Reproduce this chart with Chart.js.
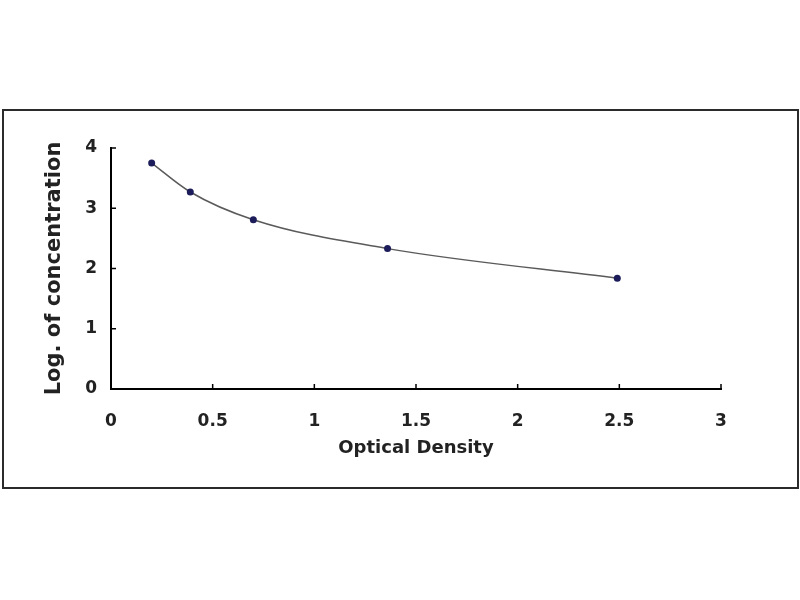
<!DOCTYPE html>
<html>
<head>
<meta charset="utf-8">
<script src="https://cdn.jsdelivr.net/npm/chart.js@4/dist/chart.umd.min.js"></script>
<style>
  html, body { margin: 0; padding: 0; background: #fff; }
  #wrap { width: 800px; height: 600px; }
</style>
</head>
<body>
<div id="wrap"><canvas id="odChart" width="800" height="600"></canvas></div>
<script>
// standard curve values
const opticalDensity = [0.20, 0.39, 0.70, 1.36, 2.49];
const logConcentration = [3.75, 3.27, 2.81, 2.33, 1.84];
const xTickValues = [0, 0.5, 1, 1.5, 2, 2.5, 3];
const yTickValues = [0, 1, 2, 3, 4];

const points = opticalDensity.map((x, i) => ({ x: x, y: logConcentration[i] }));

// frame round the whole figure + short inward tick marks
const framePlugin = {
    id: 'frame',
    beforeDraw(chart) {
        const c = chart.ctx;
        c.save();
        c.fillStyle = '#fff';
        c.fillRect(0, 0, chart.width, chart.height);
        c.strokeStyle = '#2b2b2b';
        c.lineWidth = 2;
        c.strokeRect(3, 110, 795, 378);
        c.restore();
    },
    afterDraw(chart) {
        const c = chart.ctx;
        const xs = chart.scales.x, ys = chart.scales.y;
        c.save();
        c.strokeStyle = '#000';
        c.lineWidth = 1.5;
        xTickValues.forEach(v => {
            const px = xs.getPixelForValue(v);
            c.beginPath();
            c.moveTo(px, ys.bottom);
            c.lineTo(px, ys.bottom - 5);
            c.stroke();
        });
        yTickValues.forEach(v => {
            const py = ys.getPixelForValue(v);
            c.beginPath();
            c.moveTo(xs.left, py);
            c.lineTo(xs.left + 5, py);
            c.stroke();
        });
        c.restore();
    }
};

const tickFont = { family: 'DejaVu Sans', size: 17, weight: 'bold' };

new Chart(document.getElementById('odChart').getContext('2d'), {
    type: 'scatter',
    data: {
        datasets: [{
            data: points,
            showLine: true,
            cubicInterpolationMode: 'monotone',
            borderColor: '#5a5a5a',
            borderWidth: 1.5,
            pointRadius: 3.5,
            pointStyle: 'circle',
            pointBackgroundColor: '#1c1c5a',
            pointBorderColor: '#1c1c5a',
            pointBorderWidth: 0
        }]
    },
    options: {
        responsive: false,
        animation: false,
        layout: { padding: { left: 38, right: 79, top: 148, bottom: 141 } },
        plugins: { legend: { display: false }, tooltip: { enabled: false } },
        scales: {
            x: {
                type: 'linear',
                min: 0,
                max: 3,
                afterFit(scale) { scale.height = 70; },
                afterBuildTicks(scale) { scale.ticks = xTickValues.map(v => ({ value: v })); },
                ticks: { color: '#222', font: tickFont, padding: 22, callback: v => String(v) },
                grid: { drawOnChartArea: false, drawTicks: false },
                border: { display: true, color: '#000', width: 2 },
                title: {
                    display: true,
                    text: 'Optical Density',
                    color: '#222',
                    font: { family: 'DejaVu Sans', size: 18, weight: 'bold' },
                    padding: { top: 4, bottom: 0 }
                }
            },
            y: {
                type: 'linear',
                min: 0,
                max: 4,
                afterFit(scale) { scale.width = 73; },
                afterBuildTicks(scale) { scale.ticks = yTickValues.map(v => ({ value: v })); },
                ticks: { color: '#222', font: tickFont, padding: 14, callback: v => String(v) },
                grid: { drawOnChartArea: false, drawTicks: false },
                border: { display: true, color: '#000', width: 2 },
                title: {
                    display: true,
                    text: 'Log. of concentration',
                    color: '#222',
                    font: { family: 'DejaVu Sans', size: 21, weight: 'bold' },
                    padding: { top: 4, bottom: 4 }
                }
            }
        }
    },
    plugins: [framePlugin]
});
</script>
</body>
</html>
